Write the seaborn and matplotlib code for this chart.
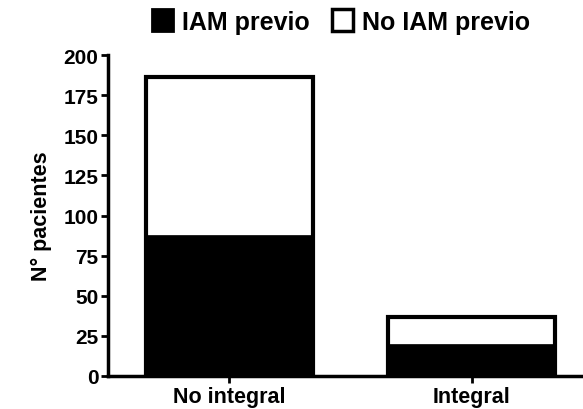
import matplotlib
matplotlib.use("Agg")
import matplotlib.pyplot as plt
import seaborn as sns
import pandas as pd
from matplotlib.patches import Patch

categories = ["No integral", "Integral"]
iam_previo = [88, 20]
no_iam_previo = [98, 17]
yticks = [0, 25, 50, 75, 100, 125, 150, 175, 200]

totals = [a + b for a, b in zip(iam_previo, no_iam_previo)]
df = pd.DataFrame({"cat": categories, "iam": iam_previo, "total": totals})

sns.set_style("white")
plt.rcParams["font.family"] = ["Liberation Sans", "DejaVu Sans"]
plt.rcParams["text.color"] = "black"
plt.rcParams["axes.labelcolor"] = "black"
plt.rcParams["xtick.color"] = "black"
plt.rcParams["ytick.color"] = "black"

fig = plt.figure(figsize=(5.83, 4.10), dpi=100)
ax = fig.add_axes([108/583, 1-377/410, 1-108/583, (377-56)/410])

sns.barplot(data=df, x="cat", y="total", color="white", edgecolor="black",
            linewidth=3, width=0.69, ax=ax, saturation=1)
sns.barplot(data=df, x="cat", y="iam", color="black", edgecolor="black",
            linewidth=0.5, width=0.69, ax=ax, saturation=1)

ax.set_ylim(0, 200)
ax.set_xlim(-0.5, 1.46)
ax.set_yticks(yticks)
ax.set_yticklabels([str(t) for t in yticks], fontsize=15, fontweight="bold")
ax.set_xticks([0, 1])
ax.set_xticklabels(categories, fontsize=15.5, fontweight="bold")
ax.set_xlabel("")
ax.set_ylabel("N° pacientes", fontsize=15.5, fontweight="bold", labelpad=8)

for s in ["top", "right"]:
    ax.spines[s].set_visible(False)
for s in ["left", "bottom"]:
    ax.spines[s].set_linewidth(2.5)
    ax.spines[s].set_color("black")
ax.tick_params(axis="both", direction="out", length=5, width=2, color="black", pad=2)
ax.tick_params(axis="both", left=True, bottom=True)

handles = [Patch(facecolor="black", edgecolor="black", linewidth=2, label="IAM previo"),
           Patch(facecolor="white", edgecolor="black", linewidth=2.5, label="No IAM previo")]
fig.legend(handles=handles, loc="center", bbox_to_anchor=(0.585, 0.945), ncol=2,
           frameon=False, prop={"size": 18, "weight": "bold"}, handlelength=0.85,
           handleheight=0.95, handletextpad=0.35, columnspacing=0.9)

fig.savefig("out.png", dpi=100)
